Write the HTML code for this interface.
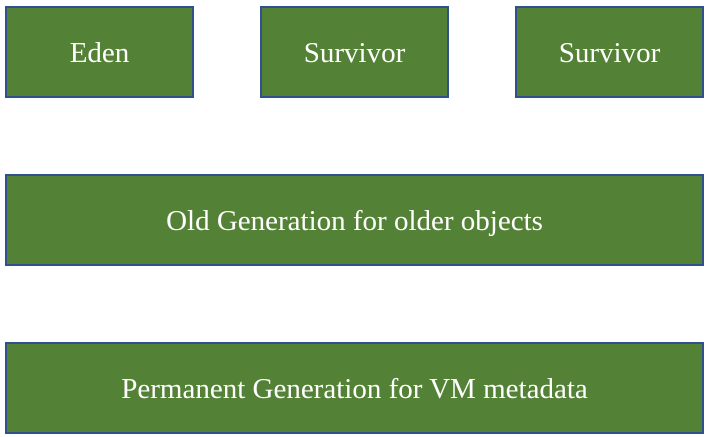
<!DOCTYPE html>
<html><head><style>
body{margin:0;width:708px;height:437px;background:#fff;position:relative;overflow:hidden}
.b{position:absolute;box-sizing:border-box;background:#538135;border:2px solid #2f528f;color:#fff;font-family:"Liberation Serif",serif;font-size:29px;display:flex;align-items:center;justify-content:center;padding-top:2px}
</style></head><body>
<div class="b" style="left:5px;top:6px;width:189px;height:92px">Eden</div>
<div class="b" style="left:260px;top:6px;width:189px;height:92px">Survivor</div>
<div class="b" style="left:515px;top:6px;width:189px;height:92px">Survivor</div>
<div class="b" style="left:5px;top:174px;width:699px;height:92px">Old Generation for older objects</div>
<div class="b" style="left:5px;top:342px;width:699px;height:92px">Permanent Generation for VM metadata</div>
</body></html>
